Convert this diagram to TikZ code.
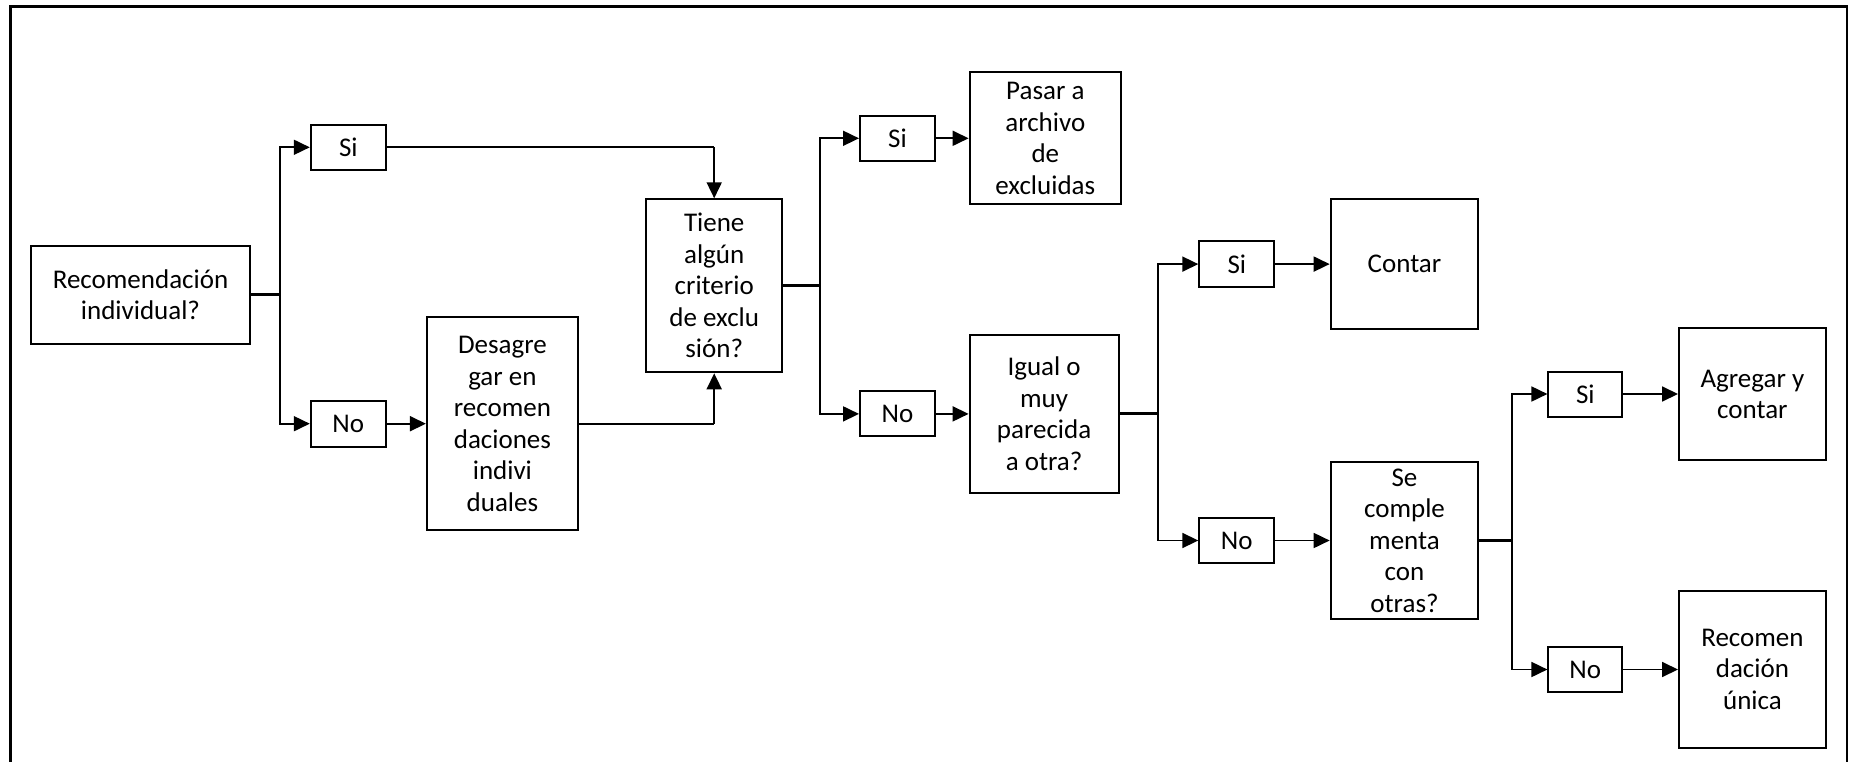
\documentclass[tikz,border=0pt]{standalone}
\usepackage{fontspec}
\setmainfont{Carlito}
\usetikzlibrary{arrows.meta}
\begin{document}
\begin{tikzpicture}[x=1pt,y=-1pt,
  every node/.style={font=\fontsize{27}{31.5}\selectfont},
  box/.style={draw, line width=2pt, align=center, inner sep=0pt},
  ans/.style={box, minimum width=75pt, minimum height=45pt},
  conn/.style={line width=1.8pt},
  arr/.style={conn, -{Triangle[length=16pt,width=15pt]}},
  stub/.style={line width=3pt},
  frame/.style={line width=2.5pt}]
\useasboundingbox (0,0) rectangle (1854,762);
\draw[frame] (10.7,762) -- (10.7,6.7) -- (1847,6.7) -- (1847,762);

\node[box, minimum width=219.4pt, minimum height=98.3pt] (rec) at (140.5,294.9) {Recomendación\\individual?};
\node[ans] (si1) at (348.3,147.3) {Si};
\node[ans, minimum height=46pt] (no1) at (348.3,423.7) {No};
\node[box, minimum width=151pt, minimum height=212.7pt] (des) at (502.4,423.7) {Desagre\\gar en\\recomen\\daciones\\indivi\\duales};
\node[box, minimum width=136pt, minimum height=173pt] (tiene) at (714.2,285.8) {Tiene\\algún\\criterio\\de exclu\\sión?};
\node[ans] (si2) at (897.5,138.3) {Si};
\node[ans] (no2) at (897.5,413.9) {No};
\node[box, minimum width=151.4pt, minimum height=131.7pt] (pasar) at (1045.3,138.2) {Pasar a\\archivo\\de\\excluidas};
\node[box, minimum width=149pt, minimum height=157.7pt] (igual) at (1044.1,413.9) {Igual o\\muy\\parecida\\a otra?};
\node[ans, minimum height=46pt] (si3) at (1236.8,264.1) {Si};
\node[ans] (no3) at (1236.8,540.5) {No};
\node[box, minimum width=147.7pt, minimum height=129.7pt] (contar) at (1404.5,264.2) {Contar};
\node[box, minimum width=147.7pt, minimum height=157.6pt] (se) at (1404.5,540.5) {Se\\comple\\menta\\con\\otras?};
\node[ans, minimum width=73.8pt] (si4) at (1585.3,394) {Si};
\node[ans, minimum width=73.8pt] (no4) at (1585.3,669.5) {No};
\node[box, minimum width=146.8pt, minimum height=131.7pt] (agr) at (1752.4,394.2) {Agregar y\\contar};
\node[box, minimum width=146.8pt, minimum height=157pt] (unica) at (1752.4,669.2) {Recomen\\dación\\única};

\coordinate (j1) at (279.8,294.9);
\coordinate (j2) at (820.2,285.8);
\coordinate (j3) at (1158.1,413.9);
\coordinate (j4) at (1512,540.5);
\coordinate (t1) at (714.2,147.3);
\coordinate (t2) at (714.2,423.7);

\draw[stub] (rec.east) -- (j1);
\draw[arr] (j1) |- (si1.west);
\draw[arr] (j1) |- (no1.west);
\draw[conn] (si1.east) -- (t1);
\draw[arr] (t1) -- (tiene.north);
\draw[arr] (no1.east) -- (no1.east -| des.west);
\draw[conn] (des.east) -- (t2);
\draw[arr] (t2) -- (tiene.south);

\draw[stub] (tiene.east) -- (j2);
\draw[arr] (j2) |- (si2.west);
\draw[arr] (j2) |- (no2.west);
\draw[arr] (si2.east) -- (si2.east -| pasar.west);
\draw[arr] (no2.east) -- (no2.east -| igual.west);

\draw[stub] (igual.east) -- (j3);
\draw[arr] (j3) |- (si3.west);
\draw[arr] (j3) |- (no3.west);
\draw[arr] (si3.east) -- (si3.east -| contar.west);
\draw[arr] (no3.east) -- (no3.east -| se.west);

\draw[stub] (se.east) -- (j4);
\draw[arr] (j4) |- (si4.west);
\draw[arr] (j4) |- (no4.west);
\draw[arr] (si4.east) -- (si4.east -| agr.west);
\draw[arr] (no4.east) -- (no4.east -| unica.west);
\end{tikzpicture}
\end{document}
